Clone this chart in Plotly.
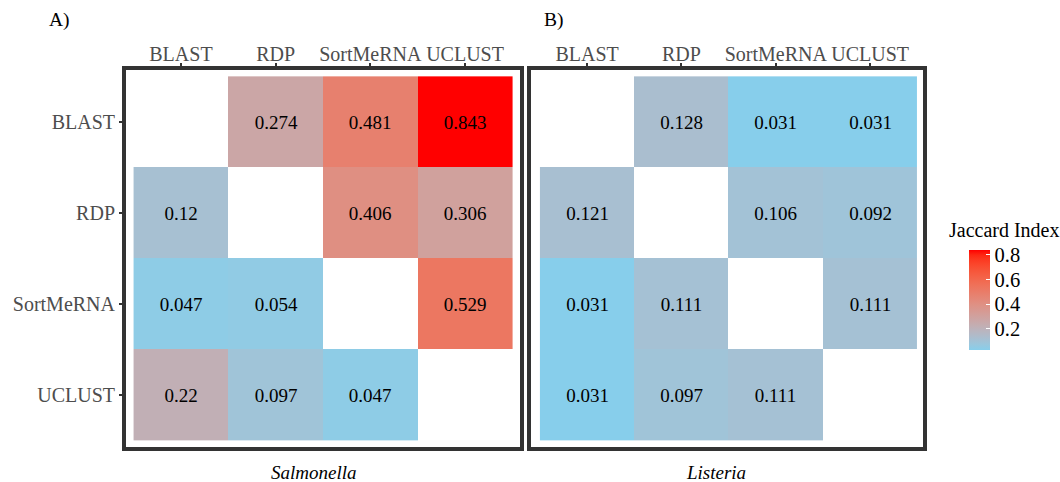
import plotly.graph_objects as go

methods = ["BLAST", "RDP", "SortMeRNA", "UCLUST"]

salmonella = [
    [None, 0.274, 0.481, 0.843],
    [0.12, None, 0.406, 0.306],
    [0.047, 0.054, None, 0.529],
    [0.22, 0.097, 0.047, None],
]
listeria = [
    [None, 0.128, 0.031, 0.031],
    [0.121, None, 0.106, 0.092],
    [0.031, 0.111, None, 0.111],
    [0.031, 0.097, 0.111, None],
]
cbar_ticks = [0.2, 0.4, 0.6, 0.8]
cbar_ticktext = ["0.2", "0.4", "0.6", "0.8"]

zmin = min(v for m in (salmonella, listeria) for r in m for v in r if v is not None)
zmax = max(v for m in (salmonella, listeria) for r in m for v in r if v is not None)


# Lab interpolation between skyblue and red (like ggplot's scale_fill_gradient)
def srgb_to_lin(c):
    c = c / 255
    return c / 12.92 if c <= 0.04045 else ((c + 0.055) / 1.055) ** 2.4


def lin_to_srgb(c):
    c = max(0, min(1, c))
    v = 12.92 * c if c <= 0.0031308 else 1.055 * c ** (1 / 2.4) - 0.055
    return int(round(max(0, min(1, v)) * 255))


Xn, Yn, Zn = 0.95047, 1.0, 1.08883


def f(t):
    return t ** (1 / 3) if t > 0.008856 else 7.787 * t + 16 / 116


def finv(t):
    return t ** 3 if t ** 3 > 0.008856 else (t - 16 / 116) / 7.787


def to_lab(rgb):
    r, g, b = [srgb_to_lin(c) for c in rgb]
    X = 0.4124 * r + 0.3576 * g + 0.1805 * b
    Y = 0.2126 * r + 0.7152 * g + 0.0722 * b
    Z = 0.0193 * r + 0.1192 * g + 0.9505 * b
    fx, fy, fz = f(X / Xn), f(Y / Yn), f(Z / Zn)
    return (116 * fy - 16, 500 * (fx - fy), 200 * (fy - fz))


def from_lab(lab):
    L, a, b = lab
    fy = (L + 16) / 116
    fx = fy + a / 500
    fz = fy - b / 200
    X, Y, Z = Xn * finv(fx), Yn * finv(fy), Zn * finv(fz)
    r = 3.2406 * X - 1.5372 * Y - 0.4986 * Z
    g = -0.9689 * X + 1.8758 * Y + 0.0415 * Z
    bb = 0.0557 * X - 0.2040 * Y + 1.0570 * Z
    return "rgb(%d,%d,%d)" % (lin_to_srgb(r), lin_to_srgb(g), lin_to_srgb(bb))


lo = to_lab((135, 206, 235))
hi = to_lab((255, 0, 0))
N = 20
colorscale = []
for i in range(N + 1):
    t = i / N
    colorscale.append([t, from_lab(tuple(lo[k] + (hi[k] - lo[k]) * t for k in range(3)))])


def texts(m):
    return [["" if v is None else ("%g" % v) for v in r] for r in m]


FONT = "Liberation Serif, Times New Roman, serif"
W, H = 1060, 482
PL, PR, PT, PB = 126, 923, 70, 447  # plot area in window pixels


def px(x):
    return (x - PL) / (PR - PL)


def py(y):
    return (PB - y) / (PB - PT)


fig = go.Figure()
fig.add_trace(go.Heatmap(
    z=salmonella, x=[0, 1, 2, 3], y=[0, 1, 2, 3], text=texts(salmonella),
    texttemplate="%{text}", textfont=dict(family=FONT, size=19, color="black"),
    colorscale=colorscale, zmin=zmin, zmax=zmax, xaxis="x", yaxis="y",
    showscale=True, hoverongaps=False,
    colorbar=dict(
        lenmode="pixels", len=100, thickness=21, x=px(969), xanchor="left",
        y=py(299.5), yanchor="middle", outlinewidth=0, xpad=0, ypad=0,
        tickvals=cbar_ticks, ticktext=cbar_ticktext,
        ticks="inside", ticklen=4, tickcolor="white", tickwidth=1,
        tickfont=dict(family=FONT, size=20.5, color="black"),
    ),
))
fig.add_trace(go.Heatmap(
    z=listeria, x=[0, 1, 2, 3], y=[0, 1, 2, 3], text=texts(listeria),
    texttemplate="%{text}", textfont=dict(family=FONT, size=19, color="black"),
    colorscale=colorscale, zmin=zmin, zmax=zmax, xaxis="x2", yaxis="y2",
    showscale=False, hoverongaps=False,
))

axis_common = dict(
    showline=True, linewidth=4, linecolor="#333333", mirror=True,
    showgrid=False, zeroline=False, ticklen=3, tickwidth=2,
    tickcolor="#333333", tickfont=dict(family=FONT, size=20, color="#4D4D4D"),
    tickvals=[0, 1, 2, 3], ticktext=methods, fixedrange=True,
    automargin=False, tickangle=0,
)

fig.update_layout(
    width=W, height=H,
    margin=dict(l=PL, r=W - PR, t=PT, b=H - PB),
    paper_bgcolor="white", plot_bgcolor="white",
    xaxis=dict(domain=[0, px(520)], range=[-0.58, 3.58], side="top", anchor="y",
               ticks="outside", ticklabelstandoff=-6, **axis_common),
    yaxis=dict(domain=[0, 1], range=[3.57, -0.57], anchor="x", ticks="outside",
               **axis_common),
    xaxis2=dict(domain=[px(530.5), 1], range=[-0.6, 3.56], side="top", anchor="y2",
                ticks="outside", ticklabelstandoff=-6, **axis_common),
    yaxis2=dict(domain=[0, 1], range=[3.57, -0.57], anchor="x2", showticklabels=False,
                ticks="", **axis_common),
    font=dict(family=FONT),
    annotations=[
        dict(text="A)", xref="paper", yref="paper", x=px(47), y=py(20), xanchor="left",
             yanchor="middle", showarrow=False, font=dict(family=FONT, size=19.5, color="black")),
        dict(text="B)", xref="paper", yref="paper", x=px(542), y=py(20), xanchor="left",
             yanchor="middle", showarrow=False, font=dict(family=FONT, size=19.5, color="black")),
        dict(text="<i>Salmonella</i>", xref="paper", yref="paper", x=px(314), y=py(473),
             xanchor="center", yanchor="middle", showarrow=False,
             font=dict(family=FONT, size=19, color="black")),
        dict(text="<i>Listeria</i>", xref="paper", yref="paper", x=px(716), y=py(473),
             xanchor="center", yanchor="middle", showarrow=False,
             font=dict(family=FONT, size=19, color="black")),
        dict(text="Jaccard Index", xref="paper", yref="paper", x=px(947), y=py(230),
             xanchor="left", yanchor="middle", showarrow=False,
             font=dict(family=FONT, size=20, color="black")),
    ],
)

# remove the browser's default 8px body margin so the figure fills the window exactly
fig.write_html("out.html", config={"displayModeBar": False},
               post_script="document.body.style.margin='0';")
